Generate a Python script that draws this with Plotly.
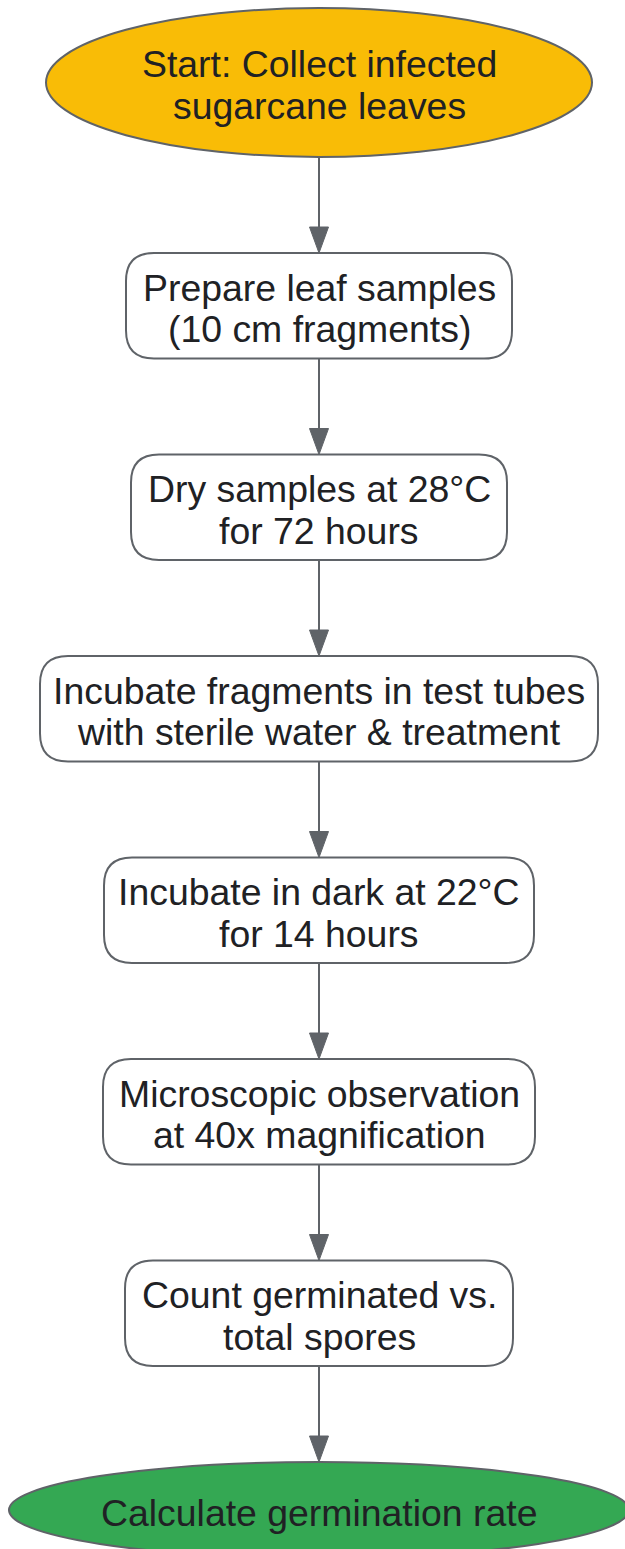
import plotly.graph_objects as go

# ---- data ----
steps = [
    "Start: Collect infected<br>sugarcane leaves",
    "Prepare leaf samples<br>(10 cm fragments)",
    "Dry samples at 28°C<br>for 72 hours",
    "Incubate fragments in test tubes<br>with sterile water & treatment",
    "Incubate in dark at 22°C<br>for 14 hours",
    "Microscopic observation<br>at 40x magnification",
    "Count germinated vs.<br>total spores",
    "Calculate germination rate",
]
kinds = ["start", "step", "step", "step", "step", "step", "step", "end"]

# ---- layout / style ----
W, H = 625, 1549
CX = 319
widths = [546, 386, 376, 558, 430, 432, 388, 620]
heights = [149, 105.5, 105.5, 105.5, 105.5, 105.5, 105.5, 96]
TOP0 = 8
GAP = 96
RADIUS = 28
LINE_SP = 41.5
TEXT_DY = 2.5
FONT = dict(family="Liberation Sans, Arial, sans-serif", size=37.4, color="#202124")
EDGE = "#5f6368"
fills = {"start": "#F9BC06", "step": "#FFFFFF", "end": "#34A853"}

fig = go.Figure()
shapes = []
annotations = []

tops = []
t = TOP0
for h in heights:
    tops.append(t)
    t += h + GAP


def rounded_rect(x0, y0, x1, y1, r):
    return (f"M {x0+r},{y0} L {x1-r},{y0} Q {x1},{y0} {x1},{y0+r} "
            f"L {x1},{y1-r} Q {x1},{y1} {x1-r},{y1} L {x0+r},{y1} "
            f"Q {x0},{y1} {x0},{y1-r} L {x0},{y0+r} Q {x0},{y0} {x0+r},{y0} Z")


for i, (lab, kind) in enumerate(zip(steps, kinds)):
    w, h, top = widths[i], heights[i], tops[i]
    x0, x1 = CX - w / 2, CX + w / 2
    y0, y1 = top, top + h
    if kind == "step":
        shapes.append(dict(type="path", path=rounded_rect(x0, y0, x1, y1, RADIUS),
                           xref="x", yref="y", fillcolor=fills[kind],
                           line=dict(color=EDGE, width=2), layer="above"))
    else:
        shapes.append(dict(type="circle", x0=x0, x1=x1, y0=y0, y1=y1,
                           xref="x", yref="y", fillcolor=fills[kind],
                           line=dict(color=EDGE, width=2), layer="above"))
    lines = lab.split("<br>")
    cy = top + h / 2 + TEXT_DY
    n = len(lines)
    for k, ln in enumerate(lines):
        yy = cy + (k - (n - 1) / 2) * LINE_SP
        annotations.append(dict(x=CX, y=yy, xref="x", yref="y", text=ln,
                                showarrow=False, font=FONT,
                                xanchor="center", yanchor="middle"))

# arrows
AH_H, AH_W = 26, 9.5
for i in range(len(steps) - 1):
    yb = tops[i] + heights[i]
    yt = tops[i + 1]
    shapes.append(dict(type="line", x0=CX, x1=CX, y0=yb, y1=yt - AH_H + 2,
                       xref="x", yref="y", line=dict(color=EDGE, width=2)))
    shapes.append(dict(type="path",
                       path=f"M {CX-AH_W},{yt-AH_H} L {CX+AH_W},{yt-AH_H} L {CX},{yt} Z",
                       xref="x", yref="y", fillcolor=EDGE,
                       line=dict(color=EDGE, width=1)))

fig.update_layout(
    width=W, height=H,
    margin=dict(l=0, r=0, t=0, b=0),
    paper_bgcolor="white", plot_bgcolor="white",
    xaxis=dict(range=[0, W], visible=False, fixedrange=True),
    yaxis=dict(range=[H, 0], visible=False, fixedrange=True),
    shapes=shapes, annotations=annotations,
    showlegend=False,
)
fig.write_html("out.html", config={"displayModeBar": False},
               post_script="document.body.style.margin='0';document.body.style.overflow='hidden';")
